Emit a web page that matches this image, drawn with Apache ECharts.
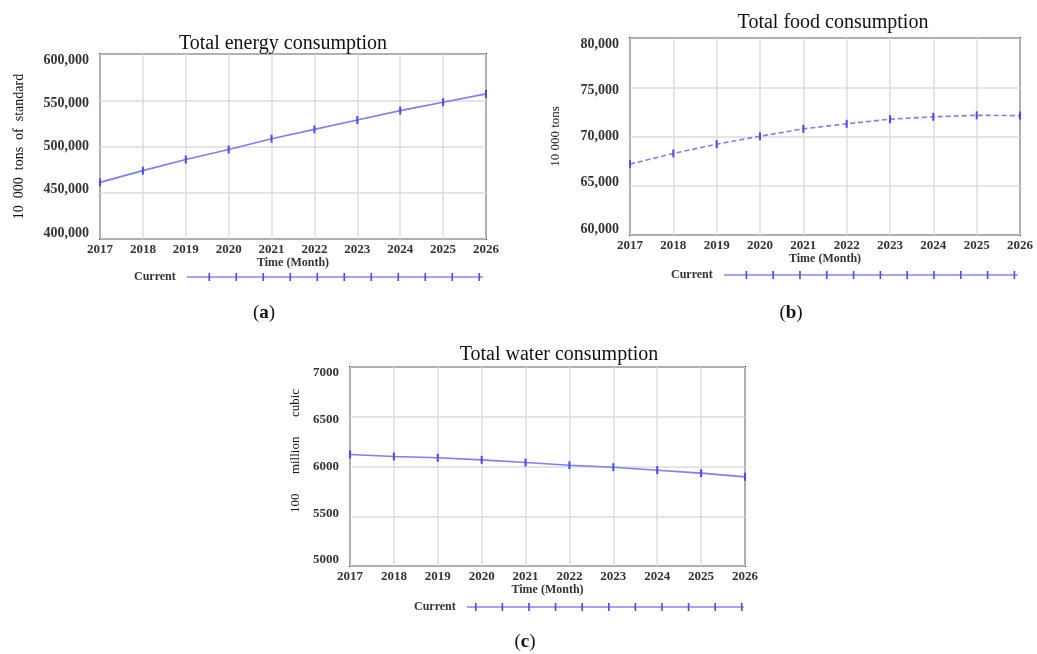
<!DOCTYPE html>
<html>
<head>
<meta charset="utf-8">
<script src="https://cdn.jsdelivr.net/npm/echarts@6/dist/echarts.min.js"></script>
<style>
html,body{margin:0;padding:0;background:#fff;}
#chart{width:1037px;height:654px;}
</style>
</head>
<body>
<div id="chart"></div>
<script>
const years = ['2017','2018','2019','2020','2021','2022','2023','2024','2025','2026'];
const energyValues = [461200, 473900, 485900, 496700, 508400, 518500, 528600, 538800, 547800, 556900];
const foodValues = [67200, 68280, 69220, 70030, 70780, 71290, 71760, 72000, 72150, 72120];
const waterValues = [6121, 6101, 6088, 6067, 6040, 6013, 5993, 5963, 5933, 5896];
const energyAxis = [400000, 600000, 50000];
const foodAxis = [60000, 80000, 5000];
const waterAxis = [5000, 7000, 500];
const titles = ['Total energy consumption', 'Total food consumption', 'Total water consumption'];
const yNames = ['10  000  tons  of  standard', '10 000 tons', '100      million      cubic'];
const xName = 'Time (Month)';
const seriesName = 'Current';
const captions = ['a', 'b', 'c'];

const SERIF = '"Liberation Serif","Times New Roman",serif';
const LINE = '#7d7dff';
const MARK = '#4a4af0';

function tickIcon(w, first, step, n) {
  let p = 'M0 3.4H' + w + 'V4.6H0Z';
  for (let i = 0; i < n; i++) {
    const x = first + i * step;
    p += 'M' + (x - 0.8).toFixed(2) + ' 0H' + (x + 0.8).toFixed(2) + 'V8H' + (x - 0.8).toFixed(2) + 'Z';
  }
  return 'path://' + p;
}

const grids = [
  {left: 100, top: 54, width: 386, height: 185},
  {left: 630, top: 38, width: 390, height: 197},
  {left: 350, top: 367, width: 395, height: 199}
];
const axisDefs = [energyAxis, foodAxis, waterAxis];
const seriesData = [energyValues, foodValues, waterValues];
const useComma = [true, true, false];
const yGaps = [74, 68, 48];
const yNameSizes = [14, 13, 13];
const yLabelSizes = [14, 14, 13];

// labels are drawn slightly compressed toward the middle, as in the source software
function labelRich(size) {
  const rich = {};
  for (let k = 0; k < 5; k++) {
    const off = (k - 2) * 3.1;
    rich['r' + k] = {
      fontFamily: SERIF, fontSize: size, fontWeight: 'bold', color: '#333',
      padding: off >= 0 ? [Math.round(off * 2), 0, 0, 0] : [0, 0, Math.round(-off * 2), 0]
    };
  }
  return rich;
}
function labelFormatter(i) {
  const [mn, mx, step] = axisDefs[i];
  return function (v) {
    const k = Math.round((v - mn) / step);
    const s = useComma[i] ? v.toLocaleString('en-US') : String(v);
    return '{r' + k + '|' + s + '}';
  };
}

const titleStyle = {fontFamily: SERIF, fontSize: 20, fontWeight: 'normal', color: '#111'};
const capStyle = {fontFamily: SERIF, fontSize: 19, fontWeight: 'normal', color: '#111',
  rich: {b: {fontFamily: SERIF, fontSize: 19, fontWeight: 'bold', color: '#111'}}};
const legendText = {fontFamily: SERIF, fontSize: 12, fontWeight: 'bold', color: '#333', padding: [0, 6, 0, 0]};

const option = {
  animation: false,
  backgroundColor: '#ffffff',
  title: [
    {text: titles[0], left: 283, top: 34, textAlign: 'center', padding: 0, textStyle: titleStyle},
    {text: titles[1], left: 833, top: 13, textAlign: 'center', padding: 0, textStyle: titleStyle},
    {text: titles[2], left: 559, top: 345, textAlign: 'center', padding: 0, textStyle: titleStyle},
    {text: '({b|' + captions[0] + '})', left: 264, top: 304, textAlign: 'center', padding: 0, textStyle: capStyle},
    {text: '({b|' + captions[1] + '})', left: 791, top: 304, textAlign: 'center', padding: 0, textStyle: capStyle},
    {text: '({b|' + captions[2] + '})', left: 525, top: 633, textAlign: 'center', padding: 0, textStyle: capStyle}
  ],
  grid: grids.map(g => Object.assign({show: true, borderColor: '#2e2e2e', borderWidth: 2, backgroundColor: '#fff'}, g)),
  xAxis: grids.map((g, i) => ({
    type: 'category', gridIndex: i, data: years, boundaryGap: false,
    name: xName, nameLocation: 'middle', nameGap: i === 0 ? 17 : 18,
    nameTextStyle: {fontFamily: SERIF, fontSize: 12, fontWeight: 'bold', color: '#333'},
    axisLine: {show: false}, axisTick: {show: false},
    axisLabel: {fontFamily: SERIF, fontSize: 13, fontWeight: 'bold', color: '#333', margin: 4, interval: 0, showMaxLabel: true},
    splitLine: {show: true, lineStyle: {color: '#dcdcdc', width: 1.5}}
  })),
  yAxis: grids.map((g, i) => ({
    type: 'value', gridIndex: i, min: axisDefs[i][0], max: axisDefs[i][1], interval: axisDefs[i][2],
    name: yNames[i], nameLocation: 'middle', nameGap: yGaps[i], nameRotate: 90,
    nameTextStyle: {fontFamily: SERIF, fontSize: yNameSizes[i], fontWeight: 'normal', color: '#111', padding: i === 2 ? [0, 0, 0, 31] : 0},
    axisLine: {show: false}, axisTick: {show: false},
    axisLabel: {fontFamily: SERIF, fontSize: yLabelSizes[i], fontWeight: 'bold', color: '#333', margin: 11,
      formatter: labelFormatter(i), rich: labelRich(yLabelSizes[i])},
    splitLine: {show: true, lineStyle: {color: '#dcdcdc', width: 1.5}}
  })),
  legend: [
    {left: 134, top: 271, align: 'right', itemWidth: 296, itemHeight: 8, itemGap: 0, padding: 0,
     data: [{name: seriesName, icon: tickIcon(296, 22.5, 27, 11)}], textStyle: legendText},
    {left: 671, top: 269, align: 'right', itemWidth: 294, itemHeight: 8, itemGap: 0, padding: 0,
     data: [{name: seriesName, icon: tickIcon(294, 22.6, 26.8, 11)}], textStyle: legendText},
    {left: 414, top: 601, align: 'right', itemWidth: 277, itemHeight: 8, itemGap: 0, padding: 0,
     data: [{name: seriesName, icon: tickIcon(277, 9, 26.6, 11)}], textStyle: legendText}
  ],
  series: seriesData.map((d, i) => ({
    name: seriesName, type: 'line', xAxisIndex: i, yAxisIndex: i, data: d,
    color: LINE,
    showSymbol: true, symbol: 'path://M0 0H2V10H0Z', symbolSize: [2, 8],
    itemStyle: {color: MARK},
    lineStyle: {color: LINE, width: 1.6, type: i === 1 ? [5, 3] : 'solid'},
    emphasis: {disabled: true},
    z: 3
  }))
};

const chart = echarts.init(document.getElementById('chart'), null, {renderer: 'canvas'});
chart.setOption(option);
</script>
</body>
</html>
